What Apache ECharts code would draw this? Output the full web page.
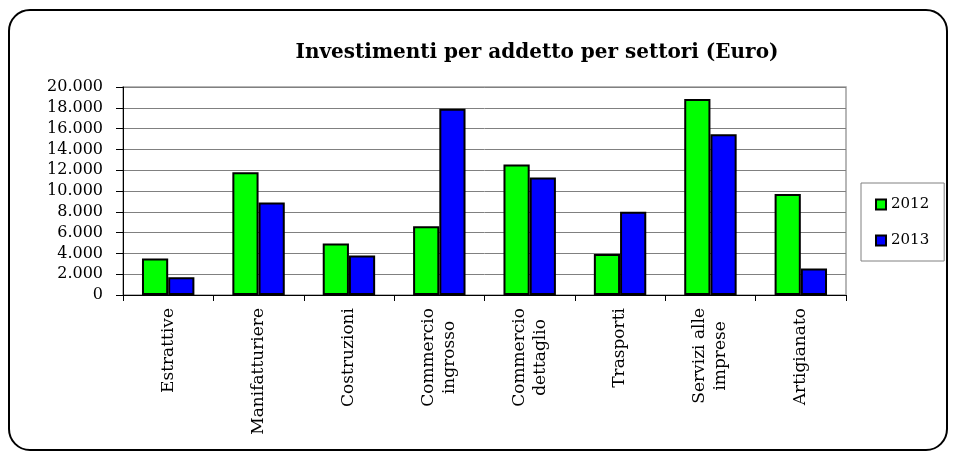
<!DOCTYPE html>
<html>
<head>
<meta charset="utf-8">
<script src="https://cdn.jsdelivr.net/npm/echarts@6/dist/echarts.min.js"></script>
<style>
html,body{margin:0;padding:0;background:#fff;}
#frame{position:absolute;left:8px;top:9px;width:940px;height:442px;border:2.5px solid #000;border-radius:22px;box-sizing:border-box;}
#chart{position:absolute;left:0;top:0;width:957px;height:458px;}
</style>
</head>
<body>
<div id="frame"></div>
<div id="chart"></div>
<script>
const categories = ['Estrattive','Manifatturiere','Costruzioni','Commercio\ningrosso','Commercio\ndettaglio','Trasporti','Servizi alle\nimprese','Artigianato'];
const seriesNames = ['2012','2013'];
const values2012 = [3500, 11800, 4950, 6600, 12550, 3950, 18850, 9700];
const values2013 = [1700, 8900, 3800, 17900, 11300, 8000, 15450, 2550];
const titleText = 'Investimenti per addetto per settori (Euro)';

const FONT = 'DejaVu Serif';
function fmt(v){ return String(v).replace(/\B(?=(\d{3})+(?!\d))/g, '.'); }

const chart = echarts.init(document.getElementById('chart'), null, {renderer:'canvas'});
chart.setOption({
  animation:false,
  backgroundColor:'transparent',
  title:{text:titleText,left:532,top:38,textAlign:'center',textStyle:{fontFamily:FONT,fontWeight:'bold',fontSize:20,color:'#000'}},
  legend:{
    orient:'vertical',left:861,top:183,
    padding:[14,15,13,14],itemGap:21,itemWidth:10,itemHeight:10,
    borderColor:'#808080',borderWidth:1,
    icon:'rect',
    textStyle:{fontFamily:FONT,fontSize:15,color:'#000'},
    data:seriesNames
  },
  grid:{left:123,right:111,top:87,bottom:163,show:true,borderColor:'#a0a0a0',borderWidth:1.5,backgroundColor:'transparent'},
  xAxis:{
    type:'category',data:categories,boundaryGap:true,
    axisLine:{lineStyle:{color:'#000',width:1}},
    axisTick:{show:true,length:6,lineStyle:{color:'#000'}},
    axisLabel:{
      rotate:90,margin:13,interval:0,color:'#000',fontFamily:FONT,fontSize:17,lineHeight:21,
      formatter:function(v){return v.split('\n').map(function(s){return '{a|'+s+'}';}).join('\n');},
      rich:{a:{fontFamily:FONT,fontSize:17,lineHeight:21,color:'#000',align:'center'}}
    }
  },
  yAxis:{
    type:'value',min:0,max:20000,interval:2000,
    axisLine:{show:true,lineStyle:{color:'#000',width:1}},
    axisTick:{show:true,length:7,lineStyle:{color:'#000'}},
    splitLine:{lineStyle:{color:'#808080',width:1}},
    axisLabel:{margin:20,color:'#000',fontFamily:FONT,fontSize:16,formatter:fmt}
  },
  series:[
    {name:seriesNames[0],type:'bar',data:values2012,barGap:'0%',barCategoryGap:'42%',
     itemStyle:{color:'#00ff00',borderColor:'#000',borderWidth:2}},
    {name:seriesNames[1],type:'bar',data:values2013,barGap:'0%',barCategoryGap:'42%',
     itemStyle:{color:'#0000ff',borderColor:'#000',borderWidth:2}}
  ]
});
</script>
</body>
</html>
